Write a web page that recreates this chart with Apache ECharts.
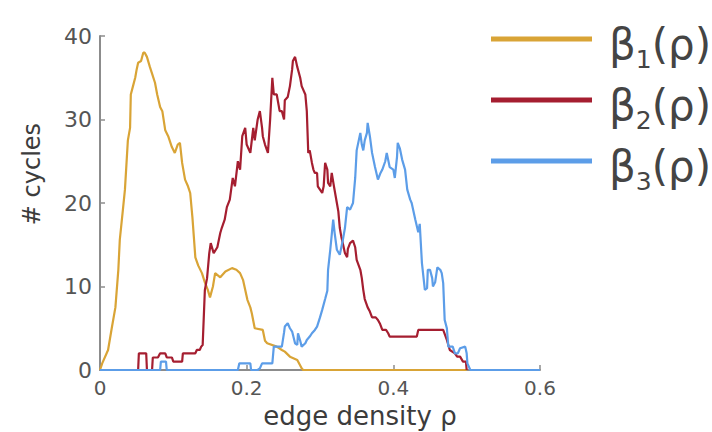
<!DOCTYPE html>
<html>
<head>
<meta charset="utf-8">
<script src="https://cdn.jsdelivr.net/npm/echarts@6/dist/echarts.min.js"></script>
<style>
html,body{margin:0;padding:0;background:#fff;}
#chart{width:712px;height:432px;}
</style>
</head>
<body>
<div id="chart"></div>
<script>
// ---- data (edge density rho, # cycles) ----
const seriesNames = ['β1(ρ)', 'β2(ρ)', 'β3(ρ)'];
const xTicks = [0, 0.2, 0.4, 0.6];
const yTicks = [0, 10, 20, 30, 40];

const beta1 = [
  [0,0],[0.003,0.8],[0.011,2.4],[0.016,5],[0.021,7.5],[0.025,12],[0.027,15.6],[0.031,19],
  [0.034,21.6],[0.038,27.5],[0.041,29],[0.042,33],[0.045,34],[0.048,35],[0.050,36],[0.052,36.8],
  [0.056,37],[0.059,38],[0.061,38],[0.064,37.5],[0.068,36.3],[0.071,35.5],[0.075,34.4],[0.078,33],
  [0.082,31.5],[0.085,31],[0.089,28.7],[0.093,28],[0.098,26.7],[0.102,26],[0.106,27],[0.109,27.2],
  [0.112,24.8],[0.116,22.8],[0.120,22],[0.123,21.2],[0.126,18.3],[0.130,13.5],[0.134,12.5],
  [0.139,11.6],[0.143,10.5],[0.147,9.6],[0.150,8.7],[0.154,10],[0.157,11.6],[0.164,11.1],
  [0.171,11.8],[0.180,12.2],[0.186,12],[0.191,11.6],[0.195,10.8],[0.201,8.4],[0.205,7.5],
  [0.207,6.8],[0.211,5],[0.222,4.8],[0.225,3.5],[0.228,3.2],[0.241,2.8],[0.248,2.4],[0.252,2.2],
  [0.259,1.6],[0.269,1.2],[0.275,0.2],[0.277,0],[0.500,0]
];

const beta2 = [
  [0,0],[0.052,0],[0.053,2],[0.063,2],[0.064,0],[0.071,0],[0.072,1.5],[0.079,1.5],[0.082,2],
  [0.089,2],[0.091,1.5],[0.098,1.5],[0.100,1],[0.112,1],[0.113,2],[0.130,2],[0.132,2.4],
  [0.136,2.4],[0.138,2.8],[0.140,3],[0.143,9.6],[0.146,11],[0.149,14],[0.151,15.2],[0.155,14],
  [0.160,14.7],[0.164,16.4],[0.166,17],[0.170,18],[0.173,19.5],[0.177,20.4],[0.181,23],[0.184,22],
  [0.188,25],[0.191,24],[0.194,28],[0.198,29],[0.200,27],[0.205,26],[0.209,29],[0.211,27.5],
  [0.215,30],[0.218,31],[0.221,29],[0.222,28],[0.225,27],[0.229,26],[0.232,30],[0.235,35],
  [0.237,33],[0.241,33],[0.245,31],[0.248,31],[0.251,30],[0.252,32.3],[0.256,32.7],[0.259,34],
  [0.262,36],[0.263,37],[0.266,37.5],[0.269,36.3],[0.273,35],[0.275,34],[0.280,33],[0.282,31],
  [0.284,26],[0.286,26.3],[0.289,24.8],[0.291,24],[0.293,23.6],[0.296,23.6],[0.297,22],[0.300,21.6],
  [0.303,21.2],[0.305,22],[0.307,24.8],[0.310,24],[0.311,22.4],[0.314,22],[0.316,23.6],[0.319,22],
  [0.323,20],[0.325,19],[0.327,17],[0.329,16],[0.331,15.2],[0.334,14],[0.337,13.5],[0.338,14.5],
  [0.341,15.2],[0.345,15.5],[0.348,14.7],[0.350,13.2],[0.355,12],[0.357,11],[0.359,9.6],[0.361,8.5],
  [0.365,7.5],[0.368,7],[0.371,6.3],[0.376,6.3],[0.379,6],[0.382,5.5],[0.385,4.8],[0.390,4.8],
  [0.393,4.4],[0.395,4],[0.432,4],[0.434,4.8],[0.468,4.8],[0.473,3.6],[0.477,2.4],[0.484,2],
  [0.487,1.6],[0.491,1.6],[0.495,1],[0.499,1],[0.500,0]
];

const beta3 = [
  [0,0],[0.082,0],[0.083,1],[0.090,1],[0.091,0],[0.188,0],[0.190,0.8],[0.205,0.8],[0.206,0],
  [0.215,0],[0.218,0.2],[0.221,0.8],[0.235,0.8],[0.237,2.8],[0.248,2.8],[0.251,4.5],[0.252,5.2],
  [0.256,5.6],[0.259,5],[0.262,4.6],[0.266,3.2],[0.269,3],[0.270,4.4],[0.273,3.5],[0.275,2.8],
  [0.280,3.2],[0.282,3.6],[0.286,4],[0.289,4.4],[0.293,4.8],[0.296,5.2],[0.300,6.3],[0.303,7.2],
  [0.307,8.5],[0.310,9.5],[0.311,12],[0.314,14.4],[0.318,18],[0.320,16.4],[0.323,14.4],[0.327,13.8],
  [0.331,15.5],[0.334,17],[0.337,19.5],[0.341,19.2],[0.345,20],[0.348,23],[0.350,26.3],[0.355,28.4],
  [0.357,27],[0.359,26.3],[0.361,27.5],[0.364,28.4],[0.365,29.6],[0.368,28],[0.371,26],[0.375,24.3],
  [0.379,22.8],[0.382,23.5],[0.385,24],[0.389,25],[0.391,26],[0.395,24.3],[0.400,24],[0.402,23],
  [0.405,25.5],[0.406,27.2],[0.409,26.5],[0.412,25.2],[0.416,24],[0.419,21.6],[0.423,20.4],
  [0.425,20],[0.430,18],[0.434,16.5],[0.436,17.5],[0.439,12.8],[0.443,9.6],[0.446,9.8],[0.447,12],
  [0.450,12],[0.453,11],[0.454,10],[0.457,10.5],[0.460,12.3],[0.464,12],[0.466,11.6],[0.468,10.4],
  [0.470,6],[0.473,5],[0.475,2.8],[0.481,2.8],[0.484,2],[0.488,2],[0.491,2.6],[0.498,2.8],
  [0.500,2],[0.501,0.8],[0.505,0],[0.600,0]
];

const colors = ['#D9A436', '#A51E30', '#5C9DE8'];
const axisColor = '#8c8c8c';
const labelColor = '#555555';
const FONT = 'DejaVu Sans';

const chart = echarts.init(document.getElementById('chart'), null, {renderer: 'svg'});

const series = [beta1, beta2, beta3].map((d, i) => ({
  name: seriesNames[i],
  type: 'line',
  data: d,
  showSymbol: false,
  symbol: 'none',
  lineStyle: {color: colors[i], width: 2.2},
  itemStyle: {color: colors[i]},
  z: 2 + i
}));

chart.setOption({
  animation: false,
  backgroundColor: '#ffffff',
  color: colors,
  grid: {left: 100, right: 172, top: 36, bottom: 62, containLabel: false, outerBoundsMode: 'none'},
  legend: {
    orient: 'vertical',
    left: 486,
    top: 8,
    itemWidth: 101,
    itemHeight: 5,
    itemGap: 2,
    icon: 'rect',
    data: seriesNames,
    formatter: function (n) {
      return '{g| }{b|β}{s|' + n.charAt(1) + '}{b|(ρ)}';
    },
    textStyle: {
      fontFamily: FONT,
      color: '#444',
      rich: {
        g: {width: 12, fontSize: 10, lineHeight: 52},
        b: {fontFamily: FONT, fontSize: 42, color: '#444', lineHeight: 52, padding: [10, 0, 0, 0]},
        s: {fontFamily: FONT, fontSize: 25, color: '#444', lineHeight: 66, verticalAlign: 'bottom'}
      }
    }
  },
  xAxis: {
    type: 'value',
    min: 0,
    max: 0.6,
    interval: 0.2,
    name: 'edge density ρ',
    nameLocation: 'middle',
    nameGap: 32,
    nameMoveOverlap: false,
    nameTextStyle: {fontFamily: FONT, fontSize: 26, lineHeight: 28, color: '#3c3c3c', padding: [0, 0, 0, 80]},
    axisLine: {show: true, onZero: false, lineStyle: {color: axisColor, width: 2}},
    axisTick: {show: true, inside: true, length: 5, lineStyle: {color: axisColor, width: 1.5}},
    axisLabel: {fontFamily: FONT, fontSize: 20, lineHeight: 20, color: labelColor, margin: 8,
      formatter: v => String(+v.toFixed(1))},
    splitLine: {show: false}
  },
  yAxis: {
    type: 'value',
    min: 0,
    max: 40,
    interval: 10,
    name: '# cycles',
    nameLocation: 'middle',
    nameGap: 56,
    nameMoveOverlap: false,
    nameTextStyle: {fontFamily: FONT, fontSize: 24, color: '#3c3c3c', padding: [0, 0, 0, 58]},
    axisLine: {show: true, lineStyle: {color: axisColor, width: 2}},
    axisTick: {show: true, inside: true, length: 5, lineStyle: {color: axisColor, width: 1.5}},
    axisLabel: {fontFamily: FONT, fontSize: 22, color: labelColor, margin: 8},
    splitLine: {show: false}
  },
  series: series
});
</script>
</body>
</html>
